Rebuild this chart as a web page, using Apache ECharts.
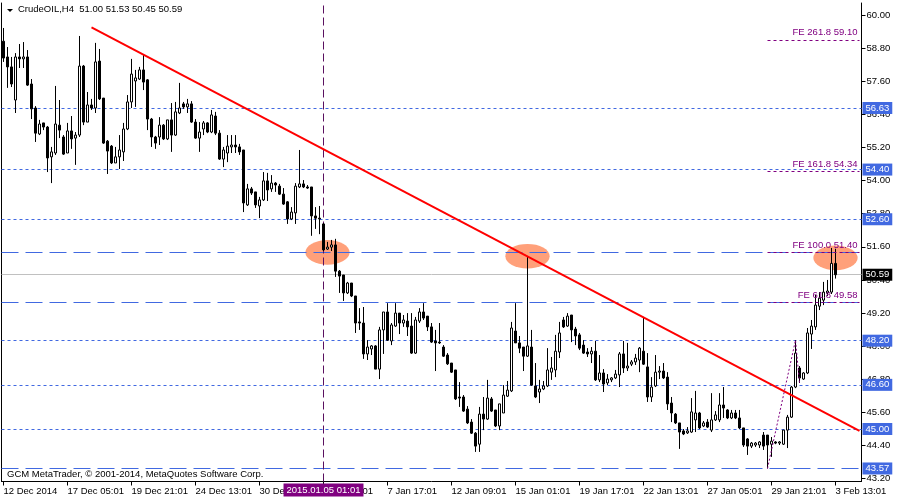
<!DOCTYPE html>
<html><head><meta charset="utf-8">
<script src="https://cdn.jsdelivr.net/npm/echarts@6/dist/echarts.min.js"></script>
<style>html,body{margin:0;padding:0;background:#fff}#c{width:900px;height:500px}</style>
</head><body><div id="c"></div>
<script>
const symbolName = 'CrudeOIL,H4';
const copyrightText = 'GCM MetaTrader, \u00a9 2001-2014, MetaQuotes Software Corp.';

const openP = [59.05,58.48,58.12,56.92,58.48,58.41,58.48,57.50,56.63,55.69,
56.09,55.94,54.86,55.00,56.01,55.58,55.00,55.80,55.54,55.65,
58.15,56.12,56.74,56.63,58.33,56.99,55.43,55.25,54.64,54.86,
55.04,55.87,56.85,57.61,57.68,58.01,57.65,56.23,55.58,55.58,
56.01,55.51,56.20,55.65,56.45,56.78,56.67,56.78,56.12,55.54,
55.87,56.09,55.76,56.34,55.72,54.78,55.00,55.22,55.29,55.22,
55.11,53.12,53.70,53.59,53.08,53.30,53.99,53.70,53.91,53.80,
53.51,53.23,52.61,52.83,53.77,53.88,53.77,53.77,52.72,52.64,
52.43,51.52,51.59,51.67,50.72,50.58,49.93,50.29,49.82,48.88,
48.84,47.72,47.90,48.01,47.17,48.59,49.24,48.19,48.73,49.20,
48.84,48.91,48.73,47.75,48.91,49.24,49.09,48.70,48.19,48.15,
47.97,47.68,47.39,47.14,46.16,46.16,45.72,45.25,44.85,44.45,
45.54,45.36,46.09,45.69,45.11,45.58,46.19,46.38,48.55,48.12,
47.97,47.64,47.97,46.56,46.34,46.45,46.56,47.06,47.14,47.79,
48.95,48.73,49.13,48.62,48.41,48.04,47.79,47.72,47.82,46.78,
47.03,46.67,46.78,46.85,46.96,47.72,47.21,47.35,47.43,47.50,
47.82,47.25,46.16,46.56,47.06,47.10,46.88,45.94,45.54,45.22,
44.93,44.86,44.89,45.33,45.58,45.11,45.25,44.96,45.33,45.33,
45.87,45.69,45.40,45.58,45.40,45.04,44.64,44.38,44.42,44.42,
44.78,44.78,44.45,44.53,44.49,44.45,44.96,45.43,46.52,47.21,
46.81,47.03,48.44,48.70,49.45,49.67,49.93,49.96,51.00];

const closeP = [58.44,58.12,57.50,58.48,58.41,58.48,57.46,56.60,55.72,56.05,
55.94,54.82,55.04,56.05,55.83,54.96,55.80,55.51,55.65,58.15,
56.12,56.74,56.63,58.30,56.96,55.36,55.07,54.64,54.86,55.11,
55.87,56.85,57.86,57.72,58.01,57.57,56.23,55.58,55.36,56.01,
55.51,56.20,55.65,56.49,56.63,56.67,56.78,56.12,55.54,55.76,
56.09,55.76,56.38,55.72,54.78,55.11,55.25,55.29,55.22,55.04,
53.19,53.70,53.55,53.12,53.30,53.99,53.66,53.91,53.84,53.51,
53.15,52.61,52.86,53.80,53.88,53.77,53.73,52.72,52.64,52.61,
51.49,51.59,51.67,50.72,50.54,49.93,50.29,49.82,48.84,48.84,
47.72,47.97,48.01,47.17,48.59,49.24,48.22,48.77,49.20,48.84,
48.95,48.70,47.75,48.95,49.24,49.02,48.70,48.15,48.12,48.12,
47.64,47.36,47.06,46.09,46.12,45.65,45.22,44.85,44.38,45.54,
45.36,46.12,45.65,45.11,45.91,46.23,46.41,48.66,48.12,47.93,
47.64,48.01,46.59,46.16,46.45,46.56,47.14,47.21,47.82,48.48,
48.70,49.09,48.59,48.37,47.93,47.75,47.72,47.82,46.78,47.03,
46.63,46.81,46.85,46.99,47.72,47.21,47.28,47.43,47.57,47.93,
47.35,46.16,46.52,47.06,47.10,46.85,45.91,45.58,45.22,44.89,
44.82,44.93,45.62,45.58,45.04,45.22,45.07,45.33,45.51,45.87,
45.76,45.40,45.58,45.40,45.04,44.42,44.38,44.49,44.49,44.53,
44.38,44.42,44.56,44.49,44.53,44.96,45.43,46.52,47.75,46.85,
47.03,48.48,48.73,49.49,49.74,49.96,50.00,51.00,50.59];

const lowP = [58.30,57.36,57.39,56.45,58.08,58.08,57.43,56.23,55.40,55.65,
55.83,54.31,53.91,54.93,55.54,54.93,55.00,55.15,54.57,55.58,
56.01,56.12,56.56,56.45,56.92,55.33,54.24,54.60,54.64,54.42,
54.71,55.83,56.63,56.67,57.65,57.28,55.83,55.22,55.15,55.29,
55.47,55.47,55.04,55.62,56.41,56.60,56.45,56.09,55.51,55.04,
55.65,55.72,55.72,55.65,54.75,54.49,54.67,55.00,55.00,54.93,
52.86,53.08,53.48,53.01,52.64,53.26,53.26,53.59,53.59,53.48,
53.12,52.43,52.57,52.43,53.73,53.73,53.70,52.00,52.25,52.06,
51.45,51.49,51.45,50.51,49.93,49.64,49.89,49.78,48.48,48.59,
47.54,47.50,47.68,47.17,46.81,47.72,48.19,48.04,48.70,48.44,
48.70,48.37,47.72,47.72,48.84,48.95,48.55,48.12,47.10,48.08,
47.61,47.32,47.03,46.05,45.80,45.62,45.18,44.82,44.17,44.17,
44.96,45.33,45.62,45.07,44.96,45.58,46.16,46.34,48.12,47.75,
47.10,47.61,46.56,46.12,45.94,46.41,46.52,46.78,46.88,47.57,
48.66,48.70,48.15,48.04,47.86,47.72,47.61,47.39,46.74,46.70,
46.34,46.59,46.70,46.81,46.52,47.03,47.10,47.28,47.32,47.06,
47.32,45.98,45.98,46.52,46.81,46.81,45.69,45.25,45.18,44.28,
44.78,44.82,44.86,44.89,45.00,45.07,45.04,44.89,45.29,45.25,
45.40,45.36,45.36,45.36,45.00,44.35,44.06,44.31,44.35,44.31,
44.24,43.57,43.99,44.45,44.42,44.42,44.31,45.40,46.48,46.67,
46.78,46.99,47.90,48.59,49.31,49.49,49.82,49.89,50.45];

const highP = [59.53,58.84,58.48,58.62,58.95,59.02,58.73,57.68,56.70,56.20,
56.09,55.98,55.22,57.43,56.92,55.65,56.09,56.34,55.76,59.24,
58.19,57.21,56.96,58.99,58.77,56.99,55.47,55.29,55.22,55.65,
56.09,57.10,58.41,58.01,58.12,58.55,57.68,56.27,55.62,56.30,
56.05,56.20,56.81,56.85,57.54,56.85,56.96,56.88,56.23,56.12,
56.16,56.12,56.56,56.49,55.83,55.22,55.65,55.65,55.65,55.33,
55.11,53.88,53.77,53.59,53.41,54.31,54.28,54.20,53.95,53.88,
53.73,53.26,53.04,53.91,55.11,54.02,53.84,53.77,53.04,53.08,
52.46,51.78,51.85,51.89,50.76,50.58,50.33,50.29,49.82,49.38,
49.42,48.22,48.04,48.04,48.70,49.24,49.56,48.84,49.56,49.20,
49.13,49.20,49.20,49.06,49.38,49.56,49.09,48.84,48.59,48.84,
48.04,47.75,47.39,47.14,46.70,46.23,45.83,45.36,44.89,45.80,
46.16,46.78,46.16,45.69,45.91,46.59,46.74,48.88,49.56,48.37,
47.97,51.27,48.59,47.39,46.78,46.74,47.93,47.61,48.41,48.88,
49.06,49.20,49.13,48.70,48.48,48.22,47.93,47.97,48.19,47.68,
47.17,46.99,46.88,47.14,47.79,48.19,48.12,47.50,47.72,47.97,
49.06,47.75,46.88,47.68,47.28,47.39,47.06,46.16,45.58,45.22,
45.00,45.07,46.12,46.38,45.62,45.29,45.36,46.30,45.65,46.30,
46.52,45.72,45.69,45.69,45.69,45.04,44.67,44.53,44.53,44.56,
44.89,44.78,44.71,44.56,44.56,44.96,45.51,46.56,48.22,47.28,
47.06,48.66,48.95,49.86,49.96,50.33,50.40,51.56,51.53];

const xTickIndex = [0,16,32,48,64,80,96,112,128,144,160,176,192,208];
const xTickLabels = ['12 Dec 2014','17 Dec 05:01','19 Dec 21:01','24 Dec 13:01','30 Dec 05:01','5 Jan 01:01',
  '7 Jan 17:01','12 Jan 09:01','15 Jan 01:01','19 Jan 17:01','22 Jan 13:01','27 Jan 05:01','29 Jan 21:01','3 Feb 13:01'];
const yTickValues = [60.00,58.80,57.60,56.40,55.20,54.00,52.80,51.60,50.40,49.20,48.00,46.80,45.60,44.40,43.20];

const boxLevels = [56.63,54.40,52.60,48.20,46.60,45.00];
const longDashLevels = [51.40,49.58];
const lowLevel = 43.57;
const bidPrice = 50.59;
const feLevels = [59.10,54.34,51.40,49.58];
const feRatios = ['261.8','161.8','100.0','61.8'];
const feStartIndex = 191;
const fePathIdx = [191,198,199];
const fePathPrice = [43.57,48.22,46.67];
const trendIdx = [22,214];
const trendPrice = [59.55,44.93];
const ellipseIdx = [81,131,208];
const ellipsePrice = [51.40,51.26,51.20];
const vlineIndex = 80;
const vlineLabel = '2015.01.05 01:01';
const nCategories = 215;
const yMin = 43.098, yMax = 60.435;

const FONT = '"Liberation Sans", Arial, sans-serif';
const FS = 9.5;
const BLUE = '#4169E1', PURPLE = '#800080';

const categories = Array.from({length: nCategories}, (_, i) => String(i));
const labelAt = {};
xTickIndex.forEach((k, j) => { labelAt[k] = xTickLabels[j]; });
const showTick = (i) => labelAt[i] !== undefined;
const candleData = openP.map((o, i) => [o, closeP[i], lowP[i], highP[i]]);
const last = openP.length - 1;
const titleText = symbolName + '  ' + [openP[last], highP[last], lowP[last], closeP[last]].map(v => v.toFixed(2)).join(' ');

const boxLabel = (bg) => ({show: true, position: 'end', distance: 1, formatter: p => Number(p.value).toFixed(2),
  color: '#fff', backgroundColor: bg, padding: [1, 3, 0, 3], fontSize: FS, fontFamily: FONT, lineHeight: 11});

const levelData = [];
boxLevels.forEach(v => levelData.push({yAxis: v, lineStyle: {color: BLUE, type: [3, 3], width: 1}, label: boxLabel(BLUE)}));
longDashLevels.forEach(v => levelData.push({yAxis: v, lineStyle: {color: BLUE, type: [17, 7], width: 1}, label: {show: false}}));
levelData.push({yAxis: lowLevel, lineStyle: {color: BLUE, type: [17, 7], width: 1}, label: boxLabel(BLUE)});
levelData.push({yAxis: bidPrice, lineStyle: {color: '#C0C0C0', type: 'solid', width: 1}, label: boxLabel('#000')});
levelData.push({xAxis: vlineIndex, lineStyle: {color: '#5a1060', type: [8, 4], width: 1},
  label: {show: true, position: 'start', formatter: vlineLabel, color: '#fff', backgroundColor: PURPLE,
    padding: [2, 3, 1, 3], distance: 2, fontSize: FS, fontFamily: FONT}});

const feData = feLevels.map((v, k) => [
  {coord: [feStartIndex, v], lineStyle: {color: PURPLE, type: [3, 3], width: 1},
   label: {show: true, position: 'insideEndTop', distance: 2, formatter: 'FE ' + feRatios[k] + ' ' + v.toFixed(2),
     color: PURPLE, fontSize: FS, fontFamily: FONT}},
  {coord: [nCategories - 1, v]}
]);

const chart = echarts.init(document.getElementById('c'), null, {renderer: 'canvas'});
chart.setOption({
  animation: false,
  backgroundColor: '#fff',
  title: [
    {text: titleText, left: 18, top: 4, padding: 0, textStyle: {fontSize: FS, fontWeight: 'normal', color: '#000', fontFamily: FONT}},
    {text: copyrightText, left: 7, top: 469, padding: 0, textStyle: {fontSize: FS, fontWeight: 'normal', color: '#000', fontFamily: FONT}}
  ],
  graphic: [{type: 'polygon', shape: {points: [[7, 9], [13, 9], [10, 12]]}, style: {fill: '#000'}}],
  grid: {left: 1.5, right: 38.5, top: 3, bottom: 18.5, show: false},
  xAxis: {
    type: 'category', data: categories, boundaryGap: true,
    axisLine: {show: true, onZero: false, lineStyle: {color: '#000', width: 1}},
    axisTick: {show: true, interval: (i) => showTick(i), alignWithLabel: true, length: 4, lineStyle: {color: '#000'}},
    axisLabel: {interval: (i) => showTick(i), formatter: (v, i) => labelAt[i] || '', align: 'left', margin: 5,
      color: '#000', fontSize: FS, fontFamily: FONT},
    splitLine: {show: false}
  },
  yAxis: [
    {type: 'value', position: 'right', min: yMin, max: yMax,
     axisLine: {show: true, lineStyle: {color: '#000'}},
     axisTick: {show: true, customValues: yTickValues, length: 4, lineStyle: {color: '#000'}},
     axisLabel: {customValues: yTickValues, formatter: v => Number(v).toFixed(2), margin: 5, color: '#000', fontSize: FS, fontFamily: FONT},
     splitLine: {show: false}},
    {type: 'value', position: 'left', min: yMin, max: yMax,
     axisLine: {show: true, lineStyle: {color: '#000'}},
     axisTick: {show: false}, axisLabel: {show: false}, splitLine: {show: false}}
  ],
  series: [
    {type: 'custom', name: 'ellipses', z: 1, silent: true,
     data: ellipseIdx.map((x, k) => [x, ellipsePrice[k]]),
     renderItem: (params, api) => {
       const p = api.coord([api.value(0), api.value(1)]);
       return {type: 'circle', x: p[0], y: p[1], scaleX: 1.8, shape: {cx: 0, cy: 0, r: 12.3}, style: {fill: '#FFA07A'}};
     }},
    {type: 'line', name: 'levels', data: [], silent: true, symbol: 'none',
     markLine: {z: 1.5, silent: true, symbol: 'none', animation: false, data: levelData}},
    {type: 'candlestick', name: symbolName, z: 2, silent: true, barWidth: 2, data: candleData,
     itemStyle: {color: '#fff', color0: '#000', borderColor: '#000', borderColor0: '#000', borderWidth: 1}},
    {type: 'line', name: 'trend', z: 3, silent: true, symbol: 'none',
     data: trendIdx.map((x, k) => [x, trendPrice[k]]), lineStyle: {color: '#FF0000', width: 2}},
    {type: 'line', name: 'FE', z: 3, silent: true, symbol: 'none',
     data: fePathIdx.map((x, k) => [x, fePathPrice[k]]), lineStyle: {color: PURPLE, width: 1, type: [2, 2]},
     markLine: {z: 3, silent: true, symbol: 'none', animation: false, data: feData}}
  ]
});
</script></body></html>
